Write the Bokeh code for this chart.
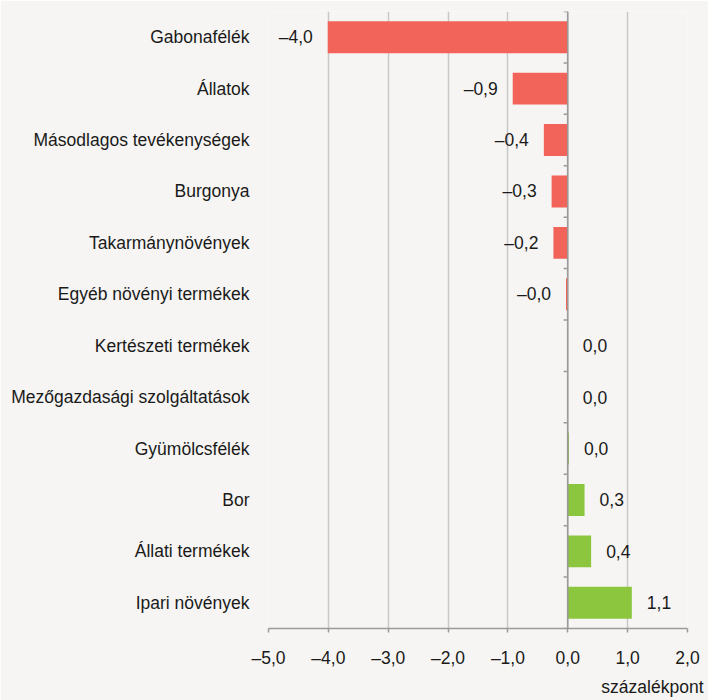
from bokeh.plotting import figure
from bokeh.models import ColumnDataSource, FixedTicker, Range1d, Span, Title
from bokeh.core.properties import value
from bokeh.embed import file_html
from bokeh.resources import INLINE

categories = ["Gabonafélék", "Állatok", "Másodlagos tevékenységek", "Burgonya",
              "Takarmánynövények", "Egyéb növényi termékek", "Kertészeti termékek",
              "Mezőgazdasági szolgáltatások", "Gyümölcsfélék", "Bor",
              "Állati termékek", "Ipari növények"]
values = [-4.01, -0.92, -0.40, -0.27, -0.24, -0.03, 0.0, 0.0, 0.02, 0.28, 0.39, 1.07]
x_ticks = [-5, -4, -3, -2, -1, 0, 1, 2]

FONT = "Liberation Sans"
FS = "17.5px"
RED = "#f2635a"
GREEN = "#8cc63f"
BG = "#f6f5f3"

def fmt(v):
    s = f"{abs(v):.1f}".replace(".", ",")
    return ("\u2013" + s) if v < 0 else s

n = len(categories)
ypos = list(range(n))
src = ColumnDataSource(dict(
    y=ypos,
    v=values,
    color=[RED if v < 0 else GREEN for v in values],
    label=[fmt(v) for v in values],
    xoff=[-15 if v < 0 else 15 for v in values],
    align=["right" if v < 0 else "left" for v in values],
))

p = figure(width=708, height=700, output_backend="svg", toolbar_location=None,
           x_range=Range1d(-5, 2), y_range=Range1d(n - 0.5, -0.5),
           min_border_left=268, min_border_right=21, min_border_top=11, min_border_bottom=71)
p.background_fill_color = BG
p.border_fill_color = BG
p.outline_line_color = None

p.hbar(y="y", left=0, right="v", height=0.62, color="color", source=src, line_color=None)

p.text(x="v", y="y", text="label", x_offset="xoff", text_align="align",
       text_baseline="middle", text_font=value(FONT), text_font_size=FS,
       text_color="#1a1a1a", source=src)

# zero line with category separator ticks
p.add_layout(Span(location=0, dimension="height", line_color="#9a9a9a", line_width=1.5))
bounds = [i - 0.5 for i in range(n + 1)]
p.segment(x0=[0] * len(bounds), y0=bounds, x1=[-0.07] * len(bounds), y1=bounds,
          line_color="#9a9a9a", line_width=1.5)

# x axis
p.xaxis.ticker = FixedTicker(ticks=x_ticks)
p.xaxis.major_label_overrides = {t: fmt(float(t)) for t in x_ticks}
p.xaxis.axis_line_color = "#9a9a9a"
p.xaxis.axis_line_width = 1.5
p.xaxis.major_tick_line_color = "#9a9a9a"
p.xaxis.major_tick_line_width = 1.5
p.xaxis.major_tick_in = 0
p.xaxis.major_tick_out = 4
p.xaxis.minor_tick_line_color = None
p.xaxis.major_label_text_font = FONT
p.xaxis.major_label_text_font_size = FS
p.xaxis.major_label_text_color = "#1a1a1a"
p.xaxis.major_label_standoff = 15

# y axis (category names)
p.yaxis.ticker = FixedTicker(ticks=ypos)
p.yaxis.major_label_overrides = {i: c for i, c in enumerate(categories)}
p.yaxis.axis_line_color = None
p.yaxis.major_tick_line_color = None
p.yaxis.minor_tick_line_color = None
p.yaxis.major_label_text_font = FONT
p.yaxis.major_label_text_font_size = FS
p.yaxis.major_label_text_color = "#1a1a1a"
p.yaxis.major_label_standoff = 13

p.xgrid.grid_line_color = "#c8c8c8"
p.xgrid.grid_line_width = 1.5
p.ygrid.grid_line_color = None

p.add_layout(Title(text="százalékpont", align="right", offset=-16, standoff=8,
                   text_font=FONT, text_font_size=FS, text_font_style="normal",
                   text_color="#1a1a1a"), "below")

open("out.html", "w").write(file_html(p, INLINE))
